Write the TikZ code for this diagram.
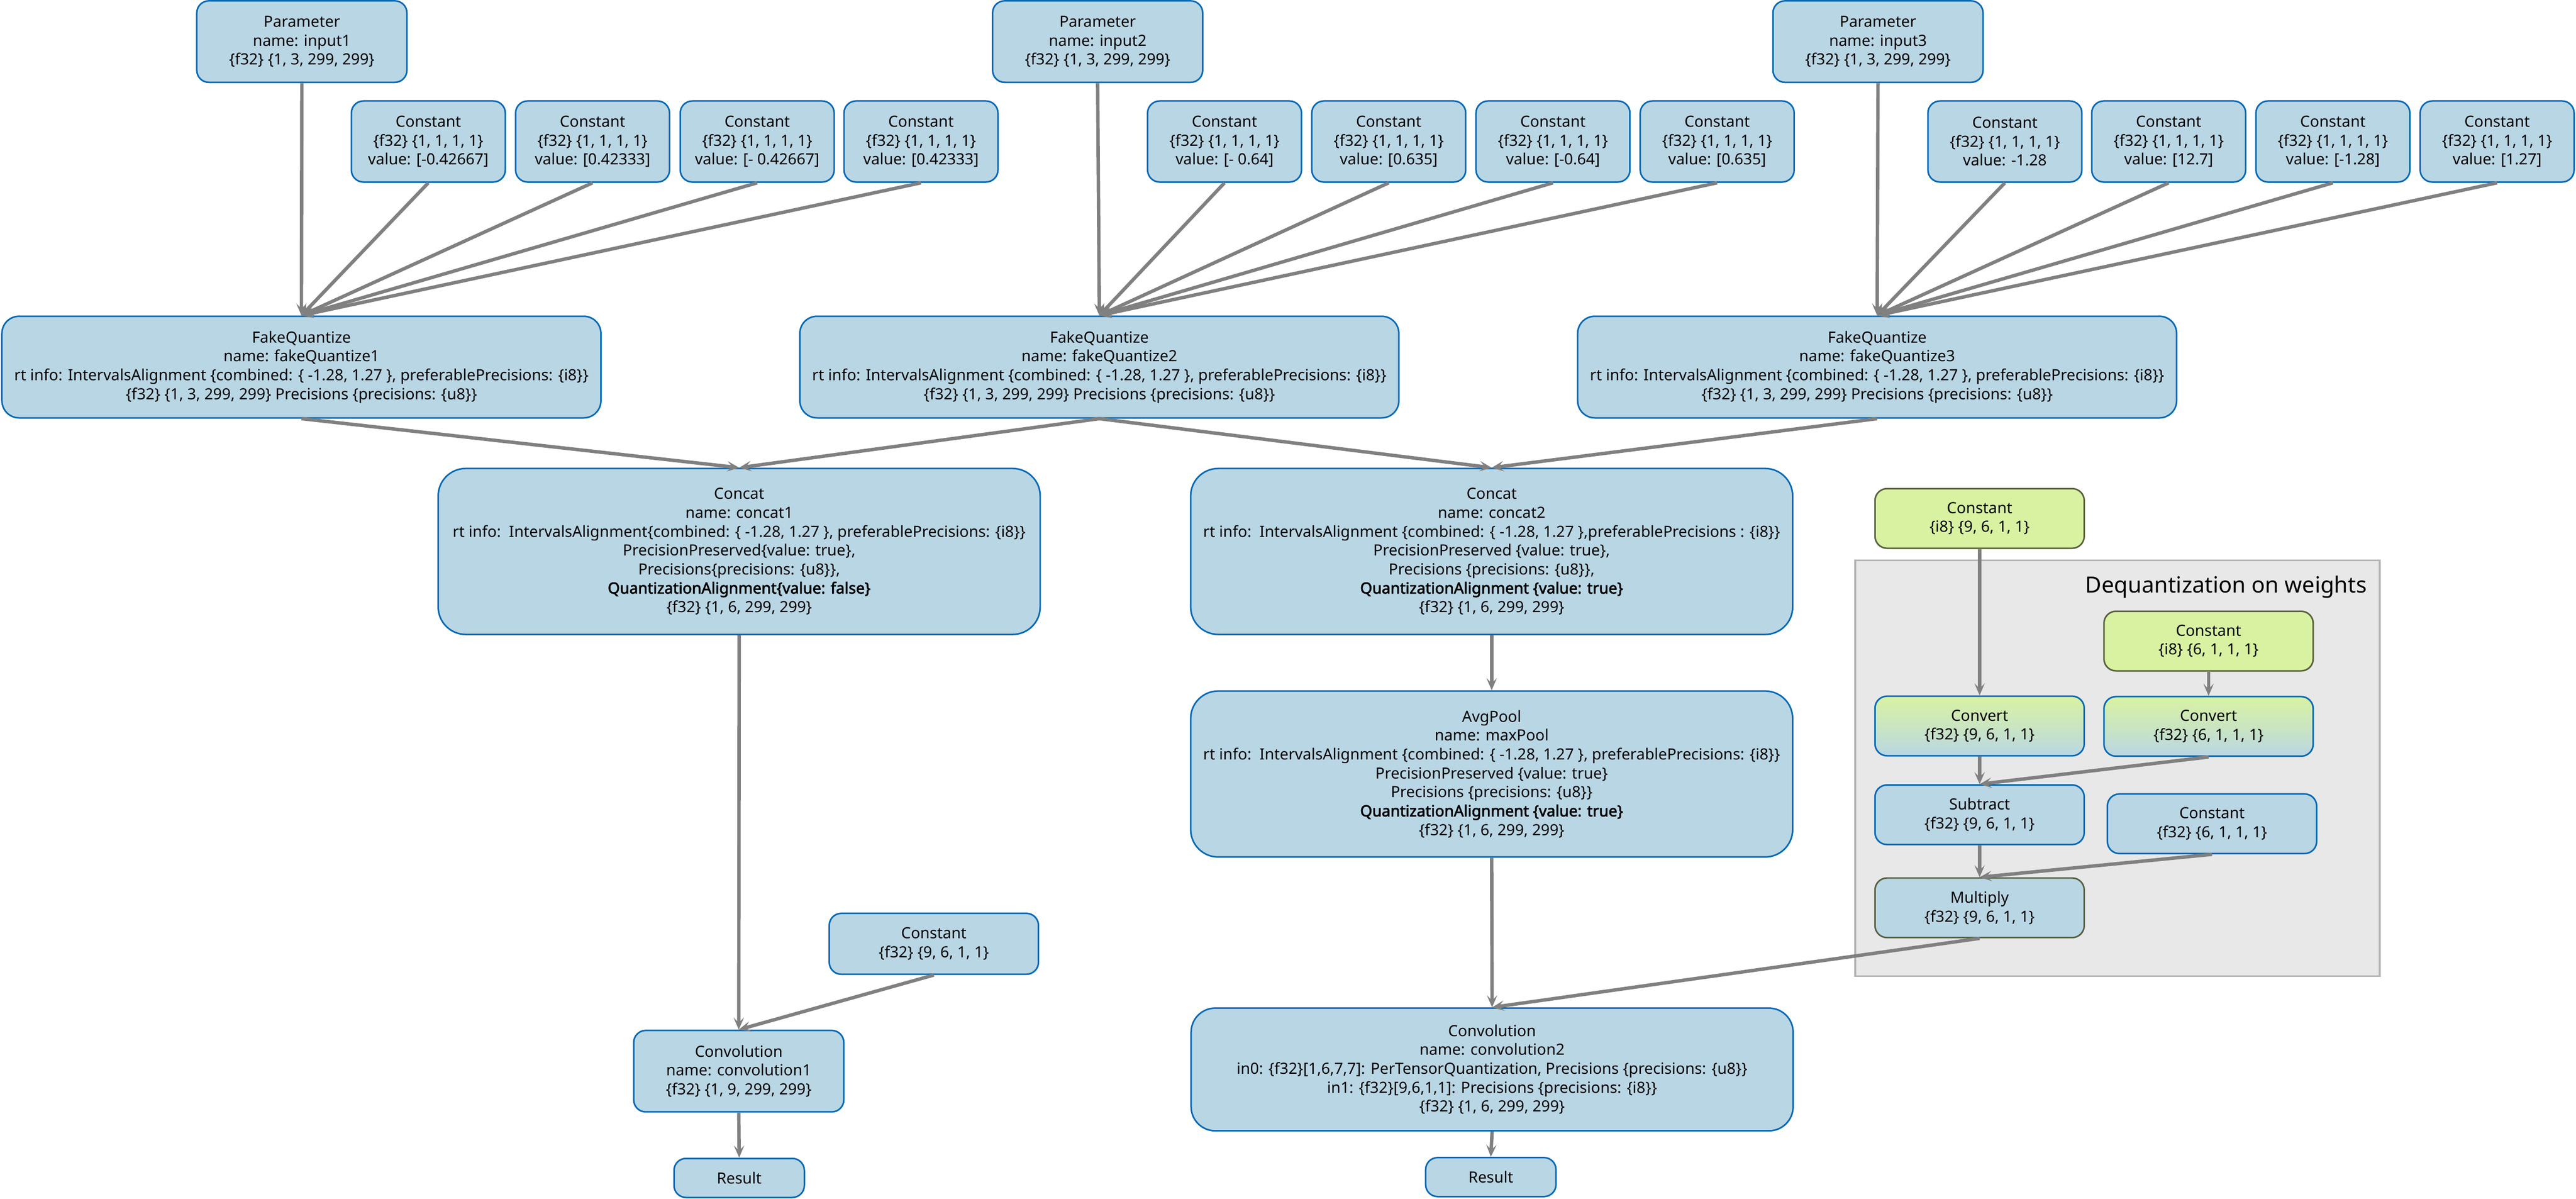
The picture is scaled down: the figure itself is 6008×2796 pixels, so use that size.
\documentclass[tikz,border=0pt]{standalone}
\usepackage{fontspec}
\setmainfont{Noto Sans}[AutoFakeBold = 2.5]
\usetikzlibrary{arrows.meta}
\definecolor{nodeblue}{HTML}{B9D6E4}
\definecolor{edgeblue}{HTML}{0068B5}
\definecolor{wgreen}{HTML}{D8F2A2}
\definecolor{wedge}{HTML}{58613F}
\definecolor{lnk}{HTML}{808080}
\definecolor{deqfill}{HTML}{E8E8E8}
\definecolor{deqedge}{HTML}{B3B3B3}
\begin{document}
\begin{tikzpicture}[x = 0.25pt, y = -0.25pt,
	box/.style = {draw = edgeblue, fill = nodeblue, line width = 0.9pt, rounded corners = 7pt, align = center, inner sep = 1pt, font = \fontsize{9}{11}\selectfont},
	parambox/.style = {box, minimum width = 122.5pt, minimum height = 47.5pt},
	constbox/.style = {box, minimum width = 89.75pt, minimum height = 47.25pt},
	fqbox/.style = {box, rounded corners = 10pt, minimum width = 349.25pt, minimum height = 59.25pt},
	bigbox/.style = {box, rounded corners = 16pt, minimum width = 351pt},
	smallbox/.style = {box, minimum width = 122pt, minimum height = 34.75pt},
	greenbox/.style = {smallbox, draw = wedge, fill = wgreen},
	convbox/.style = {smallbox, top color = wgreen, bottom color = nodeblue, middle color = wgreen!55!nodeblue},
	conn/.style = {draw = lnk, line width = 2pt, -{Stealth[length = 7pt, width = 6pt, inset = 3pt]}}
]
	\useasboundingbox (0,0) rectangle (6008,2796);
	\filldraw[fill = deqfill, draw = deqedge, line width = 1pt] (4327,1307) rectangle (5550,2276);
	\node[anchor = base east, inner sep = 0pt, font = \fontsize{13}{15}\selectfont] (deqtitle) at (5521,1382) {Dequantization on weights};
	
	\foreach \r/\px/\fx in {1/704/703, 2/2560/2564, 3/4380/4378} {
		\node[parambox] (par\r) at (\px,97) {Parameter\\name: input\r\\\{f32\} \{1, 3, 299, 299\}};
		\node[fqbox] (fq\r) at (\fx,856) {FakeQuantize\\name: fakeQuantize\r\\rt info: IntervalsAlignment \{combined: \{ -1.28, 1.27 \}, preferablePrecisions: \{i8\}\}\\\{f32\} \{1, 3, 299, 299\} Precisions \{precisions: \{u8\}\}};
		\draw[conn] (par\r.south) -- (fq\r.north);
	}
	\foreach \r/\i/\cx/\val in {1/1/999/{[-0.42667]}, 1/2/1382/{[0.42333]}, 1/3/1766/{[- 0.42667]}, 1/4/2148/{[0.42333]}, 2/1/2856/{[- 0.64]}, 2/2/3239/{[0.635]}, 2/3/3622/{[-0.64]}, 2/4/4005/{[0.635]}, 3/1/4676/{-1.28}, 3/2/5058/{[12.7]}, 3/3/5441/{[-1.28]}, 3/4/5824/{[1.27]}} {
		\node[constbox] (const\r\i) at (\cx,330) {Constant\\\{f32\} \{1, 1, 1, 1\}\\value: \val};
		\draw[conn] (const\r\i.south) -- (fq\r.north);
	}
	
	\node[bigbox, minimum height = 96.75pt] (concat1) at (1724,1286) {Concat\\name: concat1\\rt info:\ \ IntervalsAlignment\{combined: \{ -1.28, 1.27 \}, preferablePrecisions: \{i8\}\}\\PrecisionPreserved\{value: true\},\\Precisions\{precisions: \{u8\}\},\\\textbf{QuantizationAlignment\{value: false\}}\\\{f32\} \{1, 6, 299, 299\}};
	\node[bigbox, minimum height = 96.75pt] (concat2) at (3479,1286) {Concat\\name: concat2\\rt info:\ \ IntervalsAlignment \{combined: \{ -1.28, 1.27 \},preferablePrecisions : \{i8\}\}\\PrecisionPreserved \{value: true\},\\Precisions \{precisions: \{u8\}\},\\\textbf{QuantizationAlignment \{value: true\}}\\\{f32\} \{1, 6, 299, 299\}};
	\node[bigbox, minimum height = 96.75pt] (avgpool) at (3479,1805) {AvgPool\\name: maxPool\\rt info:\ \ IntervalsAlignment \{combined: \{ -1.28, 1.27 \}, preferablePrecisions: \{i8\}\}\\PrecisionPreserved \{value: true\}\\Precisions \{precisions: \{u8\}\}\\\textbf{QuantizationAlignment \{value: true\}}\\\{f32\} \{1, 6, 299, 299\}};
	\node[bigbox, rounded corners = 14pt, minimum height = 71.5pt] (conv2) at (3480,2494) {Convolution\\name: convolution2\\in0: \{f32\}[1,6,7,7]: PerTensorQuantization, Precisions \{precisions: \{u8\}\}\\in1: \{f32\}[9,6,1,1]: Precisions \{precisions: \{i8\}\}\\\{f32\} \{1, 6, 299, 299\}};
	\node[parambox] (conv1) at (1723,2498) {Convolution\\name: convolution1\\\{f32\} \{1, 9, 299, 299\}};
	\node[smallbox, minimum height = 35.5pt] (wconst) at (2178,2201) {Constant\\\{f32\} \{9, 6, 1, 1\}};
	\node[box, minimum width = 76pt, minimum height = 22.75pt] (res1) at (1724,2747) {Result};
	\node[box, minimum width = 76pt, minimum height = 22.75pt] (res2) at (3477,2745) {Result};
	
	\node[greenbox] (wdata) at (4617,1209) {Constant\\\{i8\} \{9, 6, 1, 1\}};
	\node[greenbox] (wzero) at (5151,1495) {Constant\\\{i8\} \{6, 1, 1, 1\}};
	\node[convbox] (cvt1) at (4617,1693) {Convert\\\{f32\} \{9, 6, 1, 1\}};
	\node[convbox] (cvt2) at (5151,1694) {Convert\\\{f32\} \{6, 1, 1, 1\}};
	\node[smallbox] (sub) at (4617,1900) {Subtract\\\{f32\} \{9, 6, 1, 1\}};
	\node[smallbox] (wscale) at (5159,1921) {Constant\\\{f32\} \{6, 1, 1, 1\}};
	\node[smallbox, draw = wedge] (mul) at (4617,2117) {Multiply\\\{f32\} \{9, 6, 1, 1\}};
	
	\draw[conn] (fq1.south) -- (concat1.north);
	\draw[conn] (fq2.south) -- (concat1.north);
	\draw[conn] (fq2.south) -- (concat2.north);
	\draw[conn] (fq3.south) -- (concat2.north);
	\draw[conn] (concat1.south) -- (conv1.north);
	\draw[conn] (wconst.south) -- (conv1.north);
	\draw[conn] (concat2.south) -- (avgpool.north);
	\draw[conn] (avgpool.south) -- (conv2.north);
	\draw[conn] (conv1.south) -- (res1.north);
	\draw[conn] (conv2.south) -- (res2.north);
	\draw[conn] (wdata.south) -- (cvt1.north);
	\draw[conn] (wzero.south) -- (cvt2.north);
	\draw[conn] (cvt1.south) -- (sub.north);
	\draw[conn] (cvt2.south) -- (sub.north);
	\draw[conn] (sub.south) -- (mul.north);
	\draw[conn] (wscale.south) -- (mul.north);
	\draw[conn] (mul.south) -- (conv2.north);
\end{tikzpicture}
\end{document}
